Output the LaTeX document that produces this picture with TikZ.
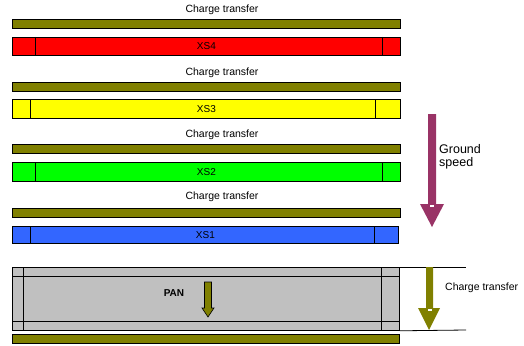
\documentclass[tikz,border=0pt]{standalone}
\usepackage{fontspec}
\setmainfont{Liberation Sans}
\definecolor{olivebar}{HTML}{808000}
\definecolor{xsred}{HTML}{FF0000}
\definecolor{xsyellow}{HTML}{FFFF00}
\definecolor{xsgreen}{HTML}{00FF00}
\definecolor{xsblue}{HTML}{3366FF}
\definecolor{pangray}{HTML}{C0C0C0}
\definecolor{gsarrow}{HTML}{993366}
\tikzset{
  bar/.style={draw=black, line width=0.8pt, inner sep=0pt, anchor=north west, minimum width=388pt},
  ctbar/.style={bar, fill=olivebar, minimum height=9pt},
  xsbar/.style={bar, minimum height=18pt},
  divline/.style={draw=black, line width=0.8pt},
  cttext/.style={font=\fontsize{10.5}{12}\selectfont, inner sep=0pt},
  xstext/.style={font=\fontsize{10}{12}\selectfont, inner sep=0pt},
}
\begin{document}
\begin{tikzpicture}[x=1pt,y=-1pt]
\useasboundingbox (0,0) rectangle (524,345);
% charge transfer bars
\node[ctbar] (ct1) at (12,19) {};
\node[ctbar] (ct2) at (12,82) {};
\node[ctbar] (ct3) at (12,144) {};
\node[ctbar] (ct4) at (12,208) {};
\node[ctbar, minimum width=387pt] (ct5) at (12,334) {};
% labels
\node[cttext] (l1) at (222,10) {Charge transfer};
\node[cttext] (l2) at (222,73) {Charge transfer};
\node[cttext] (l3) at (222,135) {Charge transfer};
\node[cttext] (l4) at (222,197) {Charge transfer};
% XS bars
\node[xsbar, fill=xsred] (xs4) at (12,37) {};
\node[xsbar, fill=xsyellow, minimum height=19pt] (xs3) at (12,99) {};
\node[xsbar, fill=xsgreen, minimum height=19pt] (xs2) at (12,162) {};
\node[xsbar, fill=xsblue, minimum width=386pt, minimum height=17pt] (xs1) at (12,226) {};
\path[divline] ([xshift=23pt]xs4.north west) -- ([xshift=23pt]xs4.south west)
               ([xshift=-18pt]xs4.north east) -- ([xshift=-18pt]xs4.south east);
\path[divline] ([xshift=18pt]xs3.north west) -- ([xshift=18pt]xs3.south west)
               ([xshift=-25pt]xs3.north east) -- ([xshift=-25pt]xs3.south east);
\path[divline] ([xshift=23pt]xs2.north west) -- ([xshift=23pt]xs2.south west)
               ([xshift=-18pt]xs2.north east) -- ([xshift=-18pt]xs2.south east);
\path[divline] ([xshift=18pt]xs1.north west) -- ([xshift=18pt]xs1.south west)
               ([xshift=-24pt]xs1.north east) -- ([xshift=-24pt]xs1.south east);
\node[xstext] at (xs4.center) {XS4};
\node[xstext] at (xs3.center) {XS3};
\node[xstext] at (xs2.center) {XS2};
\node[xstext] at (xs1.center) {XS1};
% PAN block
\node[bar, fill=pangray, minimum width=387pt, minimum height=63pt] (pan) at (12,267) {};
\path[divline] ([yshift=-9pt]pan.north west) -- ([yshift=-9pt]pan.north east)
               ([yshift=9pt]pan.south west) -- ([yshift=9pt]pan.south east)
               ([xshift=11pt]pan.north west) -- ([xshift=11pt]pan.south west)
               ([xshift=-18pt]pan.north east) -- ([xshift=-18pt]pan.south east);
\node[font=\bfseries\fontsize{10}{12}\selectfont, inner sep=0pt] (pantext) at (174,293) {PAN};
\coordinate (ctA) at (466,267);
\coordinate (ctB) at (466,330);
\draw[line width=0.8pt] (pan.north east) -- (ctA);
\draw[line width=0.8pt] (pan.south east) -- (ctB);
% PAN arrow
\fill[olivebar, draw=black, line width=0.6pt]
  (204.5,282) -- (211.5,282) -- (211.5,308) -- (214,308) -- (208,317) -- (202,308) -- (204.5,308) -- cycle;
% charge transfer arrow (right)
\fill[olivebar]
  (426,267) -- (433,267) -- (433,308) -- (440,308) -- (429,330) -- (418,308) -- (426,308) -- cycle;
\fill[white] (427.5,308.5) rectangle (431.5,310.5);
\node[cttext, anchor=west] (rct) at (445,288) {Charge transfer};
% ground speed arrow
\fill[gsarrow]
  (428,114) -- (436,114) -- (436,204) -- (444,204) -- (432,227) -- (420,204) -- (428,204) -- cycle;
\fill[white] (430,204.5) rectangle (434,206.5);
\node[font=\fontsize{12.5}{13.5}\selectfont, align=left, anchor=west, inner sep=0pt] (gs) at (439,157) {Ground\\speed};
\end{tikzpicture}
\end{document}
